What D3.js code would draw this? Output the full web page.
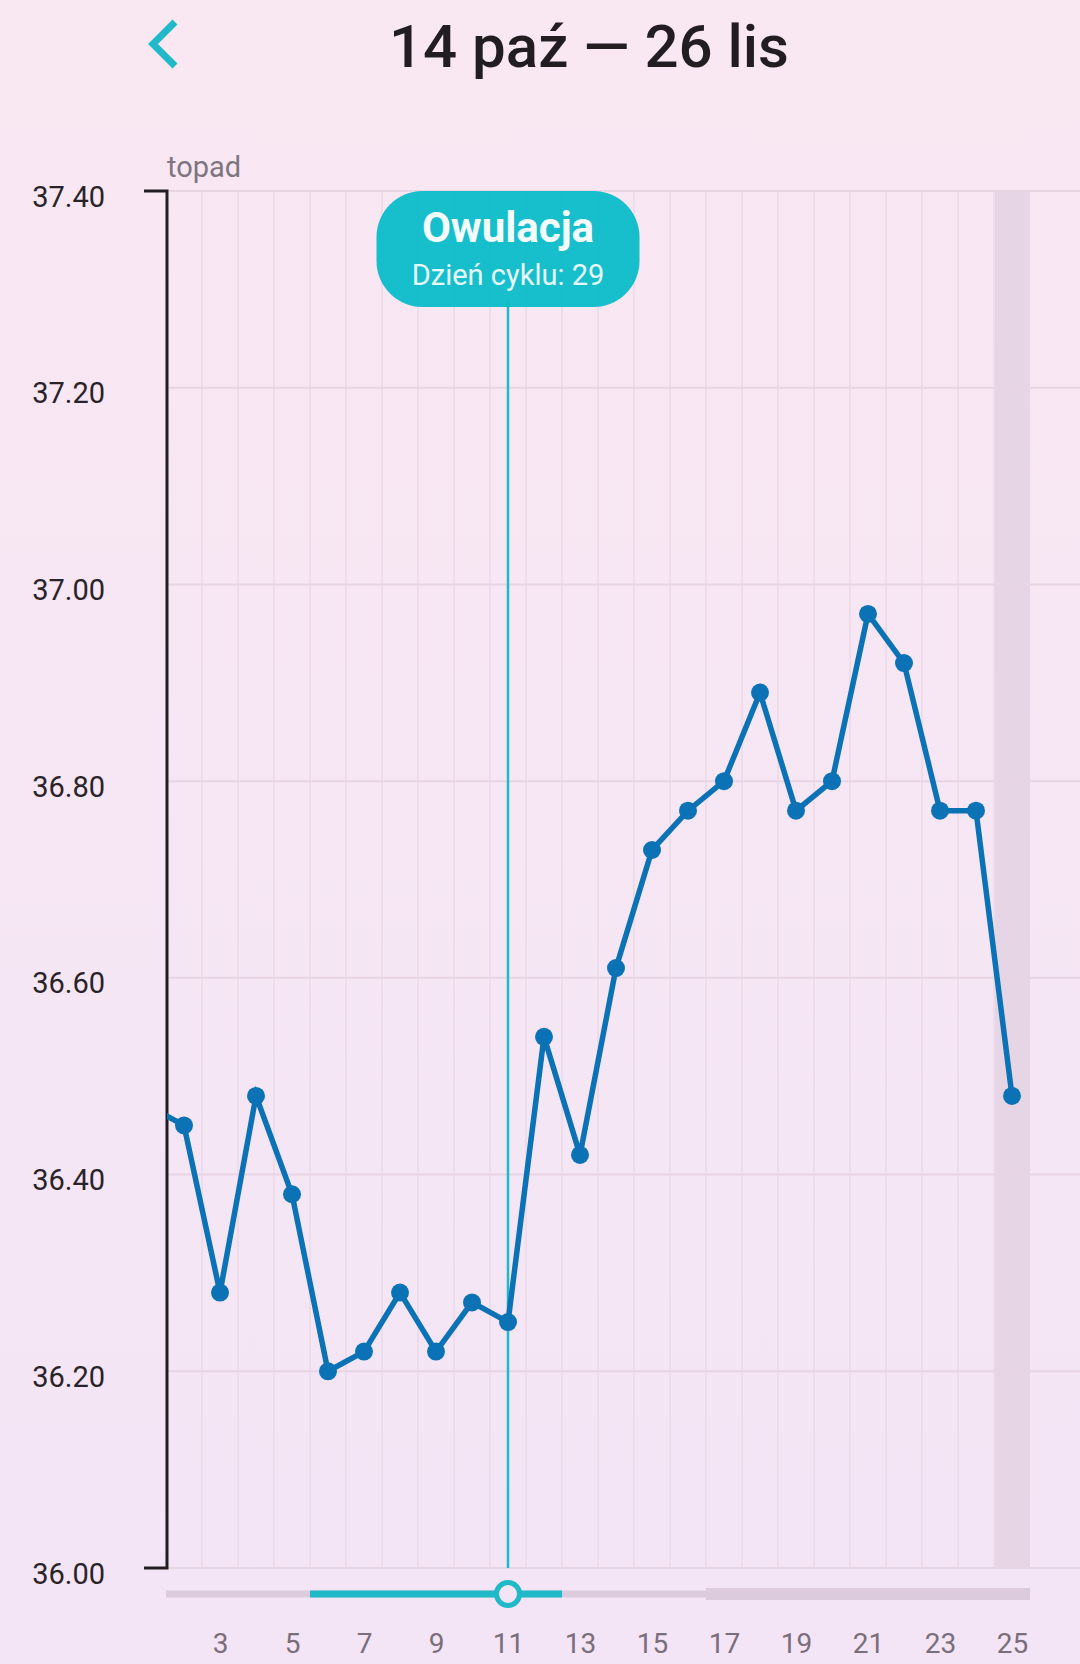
<!DOCTYPE html>
<html>
<head>
<meta charset="utf-8">
<script src="https://cdn.jsdelivr.net/npm/d3@7"></script>
<style>
  html, body { margin: 0; padding: 0; }
  body { width: 1080px; height: 1664px; overflow: hidden; font-family: Roboto, "Noto Sans", sans-serif; }
</style>
</head>
<body>
<svg id="chart" width="1080" height="1664"></svg>
<script>
// ---- data ----
const title = "14 paź — 26 lis";
const monthLabel = "topad";
const days = [1,2,3,4,5,6,7,8,9,10,11,12,13,14,15,16,17,18,19,20,21,22,23,24,25];
const temps = [36.47,36.45,36.28,36.48,36.38,36.20,36.22,36.28,36.22,36.27,36.25,36.54,36.42,36.61,36.73,36.77,36.80,36.89,36.77,36.80,36.97,36.92,36.77,36.77,36.48];
const yTicks = [36.0, 36.2, 36.4, 36.6, 36.8, 37.0, 37.2, 37.4];
const xTickLabels = [3,5,7,9,11,13,15,17,19,21,23,25];
const ovulationDay = 11;
const ovulationTitle = "Owulacja";
const ovulationSub = "Dzień cyklu: 29";
const todayDay = 25;
const fertileRange = [5.5, 12.5];   // teal slider segment (days)
const futureRange = [16.5, 25.5];   // thicker gray slider segment (days)

// ---- layout ----
const svg = d3.select("#chart");
const W = 1080, H = 1664;
const axisX = 167, plotRight = 1080;
const x = d3.scaleLinear().domain([1.5, 25.5]).range([166, 1030]);
const y = d3.scaleLinear().domain([36.0, 37.4]).range([1568, 191]);

const defs = svg.append("defs");
const grad = defs.append("linearGradient").attr("id","bg").attr("x1",0).attr("y1",0).attr("x2",0).attr("y2",1);
grad.append("stop").attr("offset","0%").attr("stop-color","#f9e8f2");
grad.append("stop").attr("offset","100%").attr("stop-color","#f3e5f6");
svg.append("rect").attr("width",W).attr("height",H).attr("fill","url(#bg)");

defs.append("clipPath").attr("id","plotclip")
  .append("rect").attr("x",axisX).attr("y",150).attr("width",plotRight-axisX).attr("height",1440);

// header
svg.append("polyline")
  .attr("points","175,22 153,44 175,66")
  .attr("fill","none").attr("stroke","#1fb9c7").attr("stroke-width",7)
  .attr("stroke-linecap","butt").attr("stroke-linejoin","miter");
svg.append("text").attr("x",589).attr("y",67).attr("text-anchor","middle")
  .attr("font-size",60).attr("font-weight",500).attr("fill","#211d21").text(title);

// shaded today column
svg.append("rect")
  .attr("x", x(todayDay-0.5)).attr("y", y(37.4))
  .attr("width", x(todayDay+0.5)-x(todayDay-0.5)).attr("height", y(36.0)-y(37.4))
  .attr("fill","#e6d6e5");

// vertical grid (day boundaries)
const bounds = d3.range(2.5, 25.5, 1);
svg.append("g").selectAll("line").data(bounds).join("line")
  .attr("x1", d=>x(d)).attr("x2", d=>x(d))
  .attr("y1", y(37.4)).attr("y2", y(36.0))
  .attr("stroke","#eedcea").attr("stroke-width",2);

// horizontal grid
svg.append("g").selectAll("line").data(yTicks).join("line")
  .attr("x1", axisX).attr("x2", plotRight)
  .attr("y1", d=>y(d)).attr("y2", d=>y(d))
  .attr("stroke","#e8d5e3").attr("stroke-width",2);

// y axis
const yAxis = d3.axisLeft(y).tickValues(yTicks).tickFormat(d3.format(".2f")).tickSize(23).tickPadding(0);
const ga = svg.append("g").attr("transform",`translate(${axisX},0)`).call(yAxis);
ga.select(".domain").attr("stroke","#231c22").attr("stroke-width",3)
  .attr("d", `M-23,${y(37.4)}H0V${y(36.0)}H-23`);
ga.selectAll(".tick line").remove();
ga.selectAll(".tick text")
  .attr("x", -62).attr("dy", null).attr("y", 15)
  .attr("font-size", 29).attr("font-family","Roboto, sans-serif")
  .attr("fill","#2a2328").attr("text-anchor","end");

svg.append("text").attr("x",167).attr("y",177).attr("font-size",29)
  .attr("fill","#7e7580").text(monthLabel);

// ovulation vertical line
svg.append("line")
  .attr("x1", x(ovulationDay)).attr("x2", x(ovulationDay))
  .attr("y1", 300).attr("y2", y(36.0))
  .attr("stroke","#1fb9c7").attr("stroke-width",2.5);

// data line
const data = days.map((d,i)=>({d, t: temps[i]}));
const line = d3.line().x(p=>x(p.d)).y(p=>y(p.t));
const gl = svg.append("g").attr("clip-path","url(#plotclip)");
gl.append("path").datum(data).attr("d", line)
  .attr("fill","none").attr("stroke","#0b72b5").attr("stroke-width",5.5).attr("stroke-linejoin","miter");
gl.selectAll("circle").data(data).join("circle")
  .attr("cx", p=>x(p.d)).attr("cy", p=>y(p.t)).attr("r", 9)
  .attr("fill","#0b72b5");

// tooltip
const tipW = 263, tipH = 116, tipX = x(ovulationDay) - tipW/2, tipY = 191;
svg.append("rect").attr("x",tipX).attr("y",tipY).attr("width",tipW).attr("height",tipH)
  .attr("rx",46).attr("ry",46).attr("fill","#10bcc9").attr("fill-opacity",0.97);
svg.append("text").attr("x",x(ovulationDay)).attr("y",242).attr("text-anchor","middle")
  .attr("font-size",42).attr("font-weight",700).attr("fill","#f4fdfd").text(ovulationTitle);
svg.append("text").attr("x",x(ovulationDay)).attr("y",285).attr("text-anchor","middle")
  .attr("font-size",29).attr("fill","#e6f9fa").text(ovulationSub);

// slider
const sy = 1594;
svg.append("rect").attr("x", x(1.5)).attr("y", sy-3.5).attr("width", x(25.5)-x(1.5)).attr("height",7)
  .attr("fill","#dccbdc");
svg.append("rect").attr("x", x(futureRange[0])).attr("y", sy-6).attr("width", x(futureRange[1])-x(futureRange[0])).attr("height",12)
  .attr("fill","#dccbdc");
svg.append("rect").attr("x", x(fertileRange[0])).attr("y", sy-3.5).attr("width", x(fertileRange[1])-x(fertileRange[0])).attr("height",7)
  .attr("fill","#1fb9c7");
svg.append("circle").attr("cx", x(ovulationDay)).attr("cy", sy).attr("r", 11.5)
  .attr("fill","#f3e5f6").attr("stroke","#1fb9c7").attr("stroke-width",5);

// x labels
const xAxis = d3.axisBottom(x).tickValues(xTickLabels).tickSize(0).tickPadding(0);
const gx = svg.append("g").attr("transform","translate(0,1625)").call(xAxis);
gx.select(".domain").remove();
gx.selectAll(".tick text").attr("font-size",28).attr("font-family","Roboto, sans-serif")
  .attr("fill","#7a6e7a").attr("dy",null).attr("y",28);
</script>
</body>
</html>
